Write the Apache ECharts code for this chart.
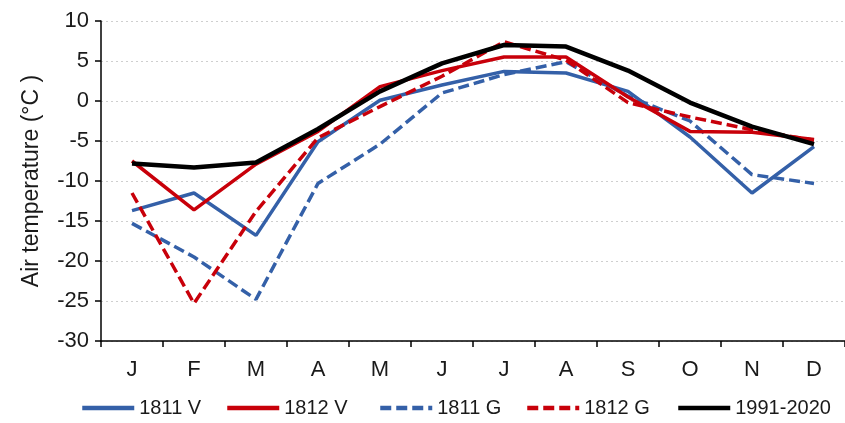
<!DOCTYPE html>
<html>
<head>
<meta charset="utf-8">
<script src="https://cdn.jsdelivr.net/npm/echarts@6/dist/echarts.min.js"></script>
<style>
html,body{margin:0;padding:0;background:#fff;}
#chart{width:845px;height:423px;}
</style>
</head>
<body>
<div id="chart"></div>
<script>
const months = ['J','F','M','A','M','J','J','A','S','O','N','D'];
const yTicks = {min: -30, max: 10, interval: 5};
const v1811 = [-13.7, -11.5, -16.8, -5.1, 0.1, 2.0, 3.7, 3.5, 1.2, -4.5, -11.5, -5.7];
const v1812 = [-7.5, -13.6, -7.9, -3.8, 1.8, 3.8, 5.5, 5.5, 0.5, -3.8, -3.9, -4.8];
const g1811 = [-15.3, -19.5, -24.8, -10.3, -5.4, 1.0, 3.3, 4.9, 0.6, -2.5, -9.2, -10.3];
const g1812 = [-11.5, -25.3, -13.8, -4.6, -0.7, 3.1, 7.4, 5.1, -0.2, -2.0, -3.6, -4.9];
const normal = [-7.8, -8.3, -7.7, -3.5, 1.2, 4.7, 7.0, 6.8, 3.8, -0.2, -3.2, -5.4];
const seriesNames = ['1811 V', '1812 V', '1811 G', '1812 G', '1991-2020'];

const BLUE = '#3460a8';
const RED = '#c8000a';
const FONT = '"Liberation Sans", Arial, sans-serif';
const legendLeft = [80, 225, 378, 525, 676];

function line(name, data, color, dashed, width, z) {
  return {
    name: name, type: 'line', data: data, symbol: 'none', z: z,
    lineStyle: {color: color, width: width, type: dashed ? [11, 5] : 'solid'},
    itemStyle: {color: color}
  };
}

const legends = seriesNames.map((n, i) => ({
  data: [n],
  left: legendLeft[i], top: 398, padding: 0,
  itemWidth: 52, itemHeight: 20, itemGap: 0,
  itemStyle: {opacity: 0},
  lineStyle: {width: 4.5},
  textStyle: {fontSize: 20, color: '#1a1a1a', fontFamily: FONT}
}));

const chart = echarts.init(document.getElementById('chart'), null, {renderer: 'canvas'});
chart.setOption({
  animation: false,
  textStyle: {fontFamily: FONT},
  grid: {left: 101, top: 21, width: 746, height: 320},
  legend: legends,
  xAxis: {
    type: 'category', data: months, boundaryGap: true,
    axisLine: {onZero: false, lineStyle: {color: '#000', width: 1.5}},
    axisTick: {show: true, length: 6, inside: false, lineStyle: {color: '#000', width: 1.5}},
    axisLabel: {fontSize: 22, color: '#1a1a1a', margin: 18, fontFamily: FONT},
    splitLine: {show: false}
  },
  yAxis: {
    type: 'value', min: yTicks.min, max: yTicks.max, interval: yTicks.interval,
    name: 'Air temperature (°C )', nameLocation: 'middle', nameGap: 58,
    nameTextStyle: {fontSize: 23, color: '#1a1a1a', fontFamily: FONT},
    axisLine: {show: true, lineStyle: {color: '#000', width: 1.5}},
    axisTick: {show: true, length: 6, inside: false, lineStyle: {color: '#000', width: 1.5}},
    axisLabel: {fontSize: 22, color: '#1a1a1a', margin: 12, fontFamily: FONT},
    splitLine: {show: true, lineStyle: {color: '#cfcfcf', width: 1, type: [2, 3]}}
  },
  series: [
    line(seriesNames[0], v1811, BLUE, false, 3.5, 3),
    line(seriesNames[1], v1812, RED, false, 3.5, 4),
    line(seriesNames[2], g1811, BLUE, true, 3.5, 2),
    line(seriesNames[3], g1812, RED, true, 3.5, 5),
    line(seriesNames[4], normal, '#000', false, 4.5, 6)
  ]
});
</script>
</body>
</html>
